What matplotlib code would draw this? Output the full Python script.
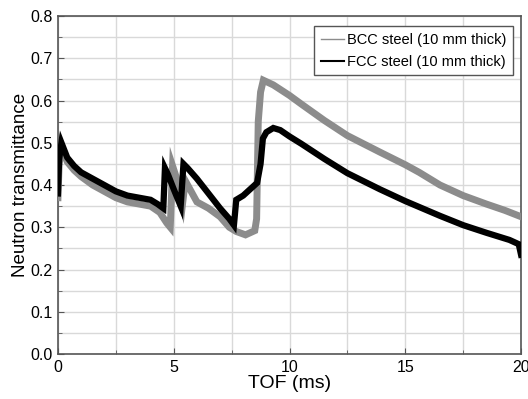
import matplotlib
matplotlib.use("Agg")
import matplotlib.pyplot as plt
from matplotlib.lines import Line2D
from matplotlib.ticker import MultipleLocator

plt.rcParams['font.family'] = ['Liberation Sans', 'DejaVu Sans']

# BCC steel (grey)
bcc_t = [0.0, 0.05, 0.15, 0.4, 0.7, 1.0, 1.5, 2.0, 2.5, 3.0, 3.5, 4.0, 4.4, 4.7, 4.85,
         4.95, 5.1, 5.38, 5.5, 5.7, 6.0, 6.5, 7.0, 7.4, 7.7, 8.1, 8.5, 8.58, 8.65, 8.75,
         8.87, 9.3, 10.0, 10.5, 11.5, 12.5, 13.9, 15.0, 15.6, 16.5, 17.5, 18.5, 19.3, 20.0]
bcc_v = [0.37, 0.45, 0.49, 0.455, 0.435, 0.42, 0.40, 0.385, 0.37, 0.36, 0.355, 0.35, 0.335, 0.31, 0.30,
         0.445, 0.42, 0.355, 0.41, 0.39, 0.36, 0.345, 0.325, 0.30, 0.29, 0.282, 0.292, 0.32, 0.55, 0.62,
         0.648, 0.637, 0.612, 0.592, 0.553, 0.517, 0.478, 0.448, 0.43, 0.40, 0.375, 0.355, 0.34, 0.325]

# FCC steel (black)
fcc_t = [0.0, 0.05, 0.15, 0.4, 0.7, 1.0, 1.5, 2.0, 2.5, 3.0, 3.5, 4.0, 4.3, 4.55, 4.62,
         4.75, 5.0, 5.3, 5.42, 5.6, 6.0, 6.5, 7.0, 7.4, 7.6, 7.7, 8.0, 8.3, 8.6, 8.75,
         8.85, 9.0, 9.3, 9.6, 10.0, 10.5, 11.5, 12.5, 13.9, 15.0, 15.6, 16.5, 17.5, 18.5,
         19.5, 19.9, 20.0]
fcc_v = [0.38, 0.46, 0.50, 0.465, 0.445, 0.43, 0.415, 0.40, 0.385, 0.375, 0.37, 0.365, 0.355, 0.345, 0.44,
         0.425, 0.39, 0.35, 0.45, 0.44, 0.415, 0.38, 0.345, 0.32, 0.305, 0.365, 0.375, 0.39, 0.405, 0.45,
         0.51, 0.525, 0.535, 0.53, 0.515, 0.498, 0.462, 0.428, 0.39, 0.362, 0.348, 0.327, 0.305, 0.287,
         0.27, 0.26, 0.235]

x_ticks = [0, 5, 10, 15, 20]
y_ticks = [0.0, 0.1, 0.2, 0.3, 0.4, 0.5, 0.6, 0.7, 0.8]

fig = plt.figure(figsize=(5.28, 3.99), dpi=100)
ax = fig.add_axes([0.1098, 0.1128, 0.877, 0.847])

ax.plot(bcc_t, bcc_v, color='#8c8c8c', lw=5.0, solid_joinstyle='miter', zorder=3)
ax.plot(fcc_t, fcc_v, color='#000000', lw=4.5, solid_joinstyle='miter', zorder=4)

ax.set_xlim(0, 20)
ax.set_ylim(0, 0.8)
ax.set_xticks(x_ticks)
ax.set_yticks(y_ticks)
ax.set_xticklabels([str(v) for v in x_ticks])
ax.set_yticklabels([f"{v:.1f}" for v in y_ticks])
ax.xaxis.set_minor_locator(MultipleLocator(2.5))
ax.yaxis.set_minor_locator(MultipleLocator(0.05))
ax.grid(True, which='both', color='#d9d9d9', lw=1.0, zorder=0)
ax.set_axisbelow(True)
ax.tick_params(which='both', direction='in', color='#555555', labelsize=11.5, pad=4)
ax.tick_params(which='major', length=4)
ax.tick_params(which='minor', length=3)
for s in ax.spines.values():
    s.set_color('#555555')
    s.set_linewidth(1.2)

ax.set_xlabel('TOF (ms)', fontsize=14, labelpad=0)
ax.set_ylabel('Neutron transmittance', fontsize=13.5, labelpad=1)

handles = [Line2D([], [], color='#8c8c8c', lw=1.0), Line2D([], [], color='#000000', lw=1.5)]
leg = ax.legend(handles, ['BCC steel (10 mm thick)', 'FCC steel (10 mm thick)'],
                loc='upper right', fontsize=10.5, fancybox=False, framealpha=1,
                edgecolor='#555555', handlelength=1.6, handletextpad=0.2,
                borderpad=0.45, labelspacing=0.55, borderaxespad=0.0,
                bbox_to_anchor=(0.982, 0.97))
leg.get_frame().set_linewidth(1.0)

fig.savefig('out.png', dpi=100)
